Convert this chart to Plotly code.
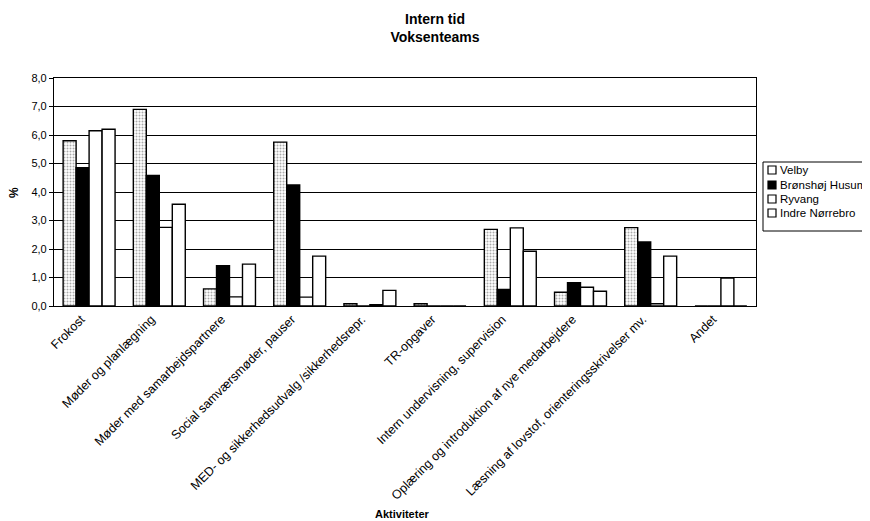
import plotly.graph_objects as go

categories = [
    "Frokost",
    "Møder og planlægning",
    "Møder med samarbejdspartnere",
    "Social samværsmøder, pauser",
    "MED- og sikkerhedsudvalg /sikkerhedsrepr.",
    "TR-opgaver",
    "Intern undervisning, supervision",
    "Oplæring og introduktion af nye medarbejdere",
    "Læsning af lovstof, orienteringsskrivelser mv.",
    "Andet",
]
series_names = ["Velby", "Brønshøj Husum", "Ryvang", "Indre Nørrebro"]
velby = [5.8, 6.9, 0.6, 5.75, 0.08, 0.08, 2.69, 0.48, 2.75, 0.0]
bronshoj = [4.85, 4.58, 1.41, 4.25, 0.0, 0.0, 0.58, 0.82, 2.25, 0.0]
ryvang = [6.15, 2.76, 0.32, 0.31, 0.05, 0.0, 2.74, 0.66, 0.08, 0.98]
indre = [6.2, 3.57, 1.47, 1.75, 0.55, 0.0, 1.92, 0.52, 1.75, 0.0]
y_ticks = [0, 1, 2, 3, 4, 5, 6, 7, 8]

font = "Liberation Sans, Arial, sans-serif"
OFF = 8  # page body margin
W, H = 870 - OFF, 521 - OFF
L, T = 54 - OFF, 78 - OFF
R = W - (756 - OFF)
B = H - (306 - OFF)
PW, PH = W - L - R, H - T - B


def px_x(px):
    return (px - OFF - L) / PW


def px_y(py):
    return (H - B - (py - OFF)) / PH


fig = go.Figure()
fig.add_bar(name=series_names[0], x=categories, y=velby, showlegend=False,
            marker=dict(color="white", line=dict(color="black", width=1.4),
                        pattern=dict(shape=".", fgcolor="#555", bgcolor="white",
                                     size=3, solidity=0.35)))
fig.add_bar(name=series_names[1], x=categories, y=bronshoj, showlegend=False,
            marker=dict(color="black", line=dict(color="black", width=1.4)))
fig.add_bar(name=series_names[2], x=categories, y=ryvang, showlegend=False,
            marker=dict(color="white", line=dict(color="black", width=1.4)))
fig.add_bar(name=series_names[3], x=categories, y=indre, showlegend=False,
            marker=dict(color="white", line=dict(color="black", width=1.4)))

fig.update_layout(
    width=W, height=H,
    margin=dict(l=L, r=R, t=T, b=B),
    paper_bgcolor="white", plot_bgcolor="white",
    barmode="group", bargap=0.26, bargroupgap=0,
    separators=",.",
    font=dict(family=font, size=11, color="black"),
    title=dict(text="<b>Intern tid<br>Voksenteams</b>", x=(435 - OFF) / W, xanchor="center",
               xref="container", y=1 - 16 / H, yanchor="top", yref="container",
               font=dict(size=14, family=font)),
    showlegend=False,
)
fig.update_yaxes(range=[0, 8], tickvals=y_ticks, tickformat=".1f", showgrid=True,
                 gridcolor="black", gridwidth=1.2, showline=True, linecolor="black",
                 linewidth=1.2, mirror=True, ticks="outside", ticklen=4, tickcolor="black",
                 tickfont=dict(size=11, family=font), automargin=False)
fig.update_xaxes(tickangle=-45, showline=True, linecolor="black", linewidth=1.2,
                 mirror=True, ticks="", tickfont=dict(size=12.5, family=font),
                 ticklabelshift=-8, automargin=False)

# axis titles
fig.add_annotation(text="<b>%</b>", xref="paper", yref="paper",
                   x=px_x(14), y=px_y(193), xanchor="center", yanchor="middle",
                   showarrow=False, textangle=-90, font=dict(size=12, family=font))
fig.add_annotation(text="<b>Aktiviteter</b>", xref="paper", yref="paper",
                   x=px_x(402), y=px_y(514), xanchor="center", yanchor="middle",
                   showarrow=False, font=dict(size=11, family=font))

# legend box (drawn)
fig.add_shape(type="rect", xref="paper", yref="paper",
              x0=px_x(763), x1=px_x(880), y0=px_y(231), y1=px_y(162),
              line=dict(color="black", width=1), fillcolor="white")
leg_y = [170, 185, 199, 213]
leg_fill = ["white", "black", "white", "white"]
for name, cy, fc in zip(series_names, leg_y, leg_fill):
    fig.add_shape(type="rect", xref="paper", yref="paper",
                  x0=px_x(768), x1=px_x(776), y0=px_y(cy + 4), y1=px_y(cy - 4),
                  line=dict(color="black", width=1.2), fillcolor=fc)
    fig.add_annotation(text=name, xref="paper", yref="paper", x=px_x(778), y=px_y(cy),
                       xanchor="left", yanchor="middle", showarrow=False,
                       font=dict(size=11.5, family=font))

fig.write_html("out.html")
